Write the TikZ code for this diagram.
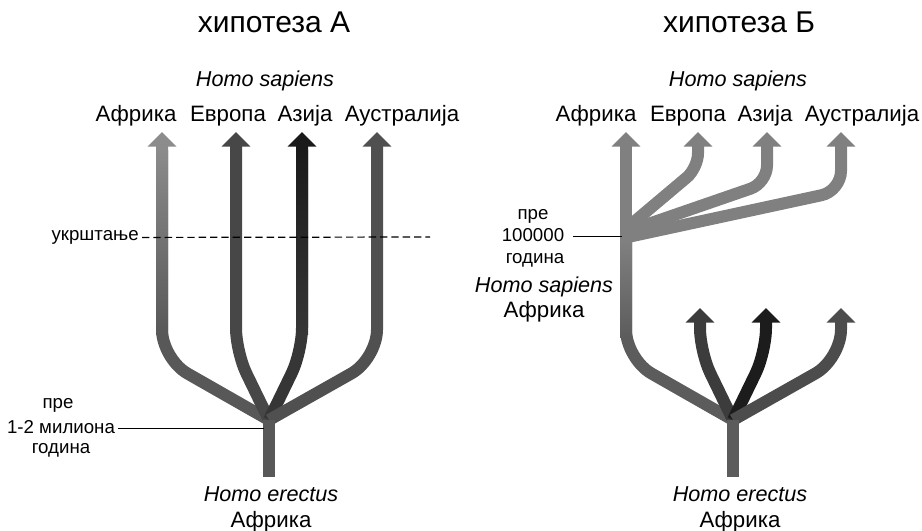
\documentclass[tikz,border=0pt]{standalone}
\usepackage{fontspec}
\setmainfont{Liberation Sans}
\usetikzlibrary{arrows.meta}
\definecolor{afTop}{HTML}{8C8C8C}
\definecolor{afBot}{HTML}{585858}
\definecolor{euC}{HTML}{474747}
\definecolor{asTop}{HTML}{1A1A1A}
\definecolor{asBot}{HTML}{363636}
\definecolor{auC}{HTML}{505050}
\definecolor{sapC}{HTML}{808080}
\definecolor{afLow}{HTML}{5C5C5C}
\definecolor{euR}{HTML}{3C3C3C}
\definecolor{asR}{HTML}{1C1C1C}
\definecolor{auR}{HTML}{4C4C4C}
\begin{document}
\begin{tikzpicture}[x=0.75pt,y=-0.75pt,
  br/.style={line width=9pt, rounded corners=#1},
  br/.default=20pt,
  tip/.style={-{Triangle[width=21pt,length=11pt]}},
  lab/.style={font=\fontsize{16.7}{19}\selectfont, anchor=base, inner sep=0pt},
  labi/.style={font=\fontsize{16.2}{19}\selectfont\itshape, anchor=base, inner sep=0pt},
  note/.style={font=\fontsize{14}{16}\selectfont, anchor=base, inner sep=0pt},
  ttl/.style={font=\fontsize{22.5}{26}\selectfont, anchor=base, inner sep=0pt},
  lead/.style={line width=0.7pt, black}]
\useasboundingbox (0,0) rectangle (922,531);
% ---------------- hypothesis A ----------------
\coordinate (jA) at (269,420);
\coordinate (rootA) at (269,477);
\draw[br, afBot] (rootA) -- (jA);
% Africa
\draw[br=22pt, afBot] (jA) -- (162,359) -- (162,150);
\shade[top color=afTop, bottom color=afBot] (156,147) rectangle (168,335);
\draw[line width=9pt, afTop, tip] (162,150) -- (162,132);
% Europe
\draw[br=18pt, euC, tip] (jA) -- (236,352) -- (236,132);
% Asia
\draw[br=18pt, asBot] (jA) -- (302,352) -- (302,150);
\shade[top color=asTop, bottom color=asBot] (296,147) rectangle (308,335);
\draw[line width=9pt, asTop, tip] (302,150) -- (302,132);
% Australia
\draw[br=22pt, auC, tip] (jA) -- (377,359) -- (377,132);
\draw[line width=9pt, afBot] (rootA) -- (jA);
% dashed line
\node[note, anchor=mid east] (ukr) at (139,237) {укрштање};
\coordinate (dashEnd) at (430,237);
\draw[line width=0.9pt, dash pattern=on 5.5pt off 3pt] (ukr.east) ++(3,0) -- (dashEnd);
% time note
\node[note] (preA) at (58,408) {пре};
\node[note] (milA) at (61,433) {1-2 милиона};
\node[note] (godA) at (61,453) {година};
\coordinate (jAl) at (264,428);
\draw[lead] (118,428) -- (jAl);
% labels
\node[ttl] (tA) at (274,33) {хипотеза А};
\node[labi] (hsA) at (265,87) {Homo sapiens};
\node[lab] (afA) at (136,122) {Африка};
\node[lab] (euA) at (228,122) {Европа};
\node[lab] (asA) at (305,122) {Азија};
\node[lab] (auA) at (402,122) {Аустралија};
\node[labi] (heA) at (271,501) {Homo erectus};
\node[lab] (afA2) at (271,527) {Африка};
% ---------------- hypothesis B ----------------
\coordinate (jB) at (733,420);
\coordinate (rootB) at (733,477);
% Africa lower (erectus -> sapiens)
\draw[br=22pt, afLow] (jB) -- (626,359) -- (626,240);
\shade[top color=sapC, bottom color=afLow] (620,240) rectangle (632,338);
\draw[line width=9pt, sapC, tip] (626,242) -- (626,132);
% sapiens branches
\draw[br=11pt, sapC, tip] (628,227) -- (698,168) -- (698,132);
\draw[br=13pt, sapC, tip] (628,231) -- (767,183) -- (767,132);
\draw[br=15pt, sapC, tip] (628,237) -- (841,191) -- (841,132);
% erectus branches
\draw[br=18pt, euR, tip] (jB) -- (700,352) -- (700,308);
\draw[br=18pt, asR, tip] (jB) -- (766,352) -- (766,308);
\draw[br=22pt, auR, tip] (jB) -- (841,359) -- (841,308);
\draw[line width=9pt, afLow] (rootB) -- (jB);
% time note
\node[note] (preB) at (533,220) {пре};
\node[note] (numB) at (533,242) {100000};
\node[note] (godB) at (535,264) {година};
\coordinate (jBl) at (622,236);
\draw[lead] (573,236) -- (jBl);
\node[labi] (hsB2) at (544,292) {Homo sapiens};
\node[lab] (afB3) at (544,318) {Африка};
% labels
\node[ttl] (tB) at (739,33) {хипотеза Б};
\node[labi] (hsB) at (738,87) {Homo sapiens};
\node[lab] (afB) at (596,122) {Африка};
\node[lab] (euB) at (688,122) {Европа};
\node[lab] (asB) at (765,122) {Азија};
\node[lab] (auB) at (862,122) {Аустралија};
\node[labi] (heB) at (740,501) {Homo erectus};
\node[lab] (afB2) at (740,527) {Африка};
\end{tikzpicture}
\end{document}
